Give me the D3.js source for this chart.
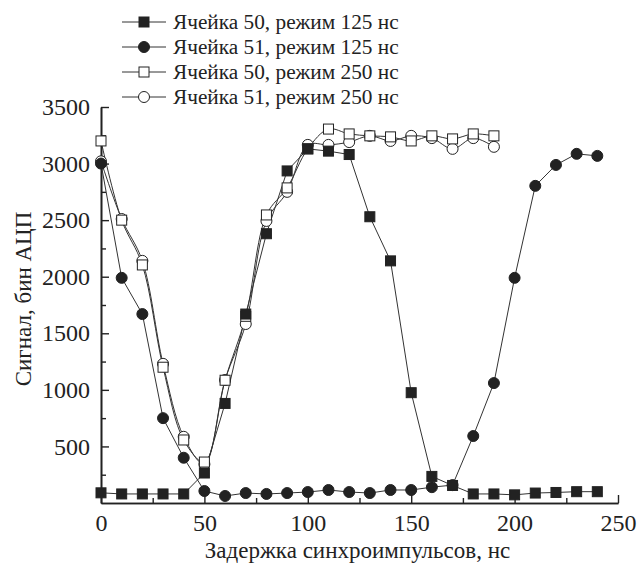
<!DOCTYPE html>
<html>
<head>
<meta charset="utf-8">
<script src="https://cdn.jsdelivr.net/npm/d3@7"></script>
<style>
  body { margin: 0; background: #fff; }
  text { font-family: "Liberation Serif", "DejaVu Serif", serif; fill: #222; }
</style>
</head>
<body>
<svg id="chart"></svg>
<script>
// delays (ns)
const delays125 = [0, 10, 20, 30, 40, 50, 60, 70, 80, 90, 100, 110, 120, 130, 140, 150, 160, 170, 180, 190, 200, 210, 220, 230, 240];
const delays250 = [0, 10, 20, 30, 40, 50, 60, 70, 80, 90, 100, 110, 120, 130, 140, 150, 160, 170, 180, 190];

// ADC signal values
const cell50mode125 = [90, 80, 80, 80, 80, 265, 880, 1670, 2380, 2935, 3130, 3110, 3080, 2530, 2140, 975, 235, 155, 80, 80, 72, 88, 93, 100, 100];
const cell51mode125 = [3000, 1990, 1670, 750, 400, 106, 62, 88, 80, 88, 97, 115, 97, 88, 115, 115, 140, 158, 592, 1060, 1990, 2803, 2988, 3086, 3068];
const cell50mode250 = [3200, 2500, 2104, 1200, 557, 362, 1085, 1650, 2546, 2785, 3130, 3305, 3262, 3245, 3236, 3200, 3245, 3218, 3262, 3245];
const cell51mode250 = [3020, 2510, 2140, 1230, 585, 343, 1087, 1582, 2493, 2750, 3165, 3165, 3190, 3245, 3200, 3245, 3225, 3130, 3225, 3148];

const seriesNames = [
    "Ячейка 50, режим 125 нс",
    "Ячейка 51, режим 125 нс",
    "Ячейка 50, режим 250 нс",
    "Ячейка 51, режим 250 нс"
];

const xTicks = [0, 50, 100, 150, 200, 250];
const yTicks = [500, 1000, 1500, 2000, 2500, 3000, 3500];

const width = 639, height = 563;
const margin = {top: 107, right: 21, bottom: 60, left: 101};

const svg = d3.select("#chart").attr("width", width).attr("height", height);

const x = d3.scaleLinear().domain([0, 250]).range([margin.left, width - margin.right]);
const y = d3.scaleLinear().domain([0, 3500]).range([height - margin.bottom, margin.top]);

const series = [
    {name: seriesNames[0], xs: delays125, ys: cell50mode125, shape: "square", filled: true, curve: d3.curveLinear},
    {name: seriesNames[1], xs: delays125, ys: cell51mode125, shape: "circle", filled: true, curve: d3.curveLinear},
    {name: seriesNames[2], xs: delays250, ys: cell50mode250, shape: "square", filled: false, curve: d3.curveCatmullRom},
    {name: seriesNames[3], xs: delays250, ys: cell51mode250, shape: "circle", filled: false, curve: d3.curveCatmullRom}
];

// axes: ticks pointing inward, minor ticks between majors
const xAxis = d3.axisBottom(x).tickValues(xTicks).tickFormat(d3.format("d")).tickSize(-8).tickPadding(11).tickSizeOuter(0);
const xMinor = d3.axisBottom(x).tickValues([25, 75, 125, 175, 225]).tickSize(-5).tickFormat("").tickSizeOuter(0);
const yAxis = d3.axisLeft(y).tickValues(yTicks).tickFormat(d3.format("d")).tickSize(-8).tickPadding(11).tickSizeOuter(0);
const yMinor = d3.axisLeft(y).tickValues([250, 750, 1250, 1750, 2250, 2750, 3250]).tickSize(-5).tickFormat("").tickSizeOuter(0);

const xAxisG = svg.append("g").attr("transform", `translate(0,${height - margin.bottom})`);
xAxisG.call(xAxis);
xAxisG.append("g").call(xMinor);
const yAxisG = svg.append("g").attr("transform", `translate(${margin.left},0)`);
yAxisG.call(yAxis);
yAxisG.append("g").call(yMinor);

svg.selectAll(".domain").attr("stroke", "#222").attr("stroke-width", 1.6);
svg.selectAll(".tick line").attr("stroke", "#222").attr("stroke-width", 1.4);
svg.selectAll(".tick text").style("font-size", "24px").attr("fill", "#222");

// axis titles
svg.append("text")
    .attr("x", x(125) - 2)
    .attr("y", 558)
    .attr("text-anchor", "middle")
    .style("font-size", "23px")
    .text("Задержка синхроимпульсов, нс");

svg.append("text")
    .attr("transform", `translate(31,299) rotate(-90)`)
    .attr("text-anchor", "middle")
    .style("font-size", "23px")
    .text("Сигнал, бин АЦП");

// draw lines then markers
function drawMarker(g, shape, filled, cx, cy) {
    if (shape === "square") {
        g.append("rect")
            .attr("x", cx - 5).attr("y", cy - 5)
            .attr("width", 10).attr("height", 10)
            .attr("fill", filled ? "#222" : "#fff")
            .attr("stroke", "#222").attr("stroke-width", 1);
    } else {
        g.append("circle")
            .attr("cx", cx).attr("cy", cy).attr("r", 5.5)
            .attr("fill", filled ? "#222" : "#fff")
            .attr("stroke", "#222").attr("stroke-width", 1);
    }
}

const plot = svg.append("g");
series.forEach(s => {
    const pts = s.xs.map((d, i) => [d, s.ys[i]]);
    const line = d3.line().x(d => x(d[0])).y(d => y(d[1])).curve(s.curve);
    plot.append("path")
        .attr("d", line(pts))
        .attr("fill", "none")
        .attr("stroke", "#333")
        .attr("stroke-width", 1);
});
// open series drawn first so filled markers sit on top where they overlap
[3, 2, 1, 0].forEach(k => {
    const s = series[k];
    const g = plot.append("g");
    s.xs.forEach((d, i) => drawMarker(g, s.shape, s.filled, x(d), y(s.ys[i])));
});

// legend
const legend = svg.append("g");
const legendY = [22, 47, 72, 97];
series.forEach((s, i) => {
    const row = legend.append("g").attr("transform", `translate(0,${legendY[i]})`);
    row.append("line").attr("x1", 122).attr("x2", 166).attr("y1", 0).attr("y2", 0)
        .attr("stroke", "#333").attr("stroke-width", 1);
    drawMarker(row, s.shape, s.filled, 144, 0);
    row.append("text")
        .attr("x", 173).attr("y", 7)
        .style("font-size", "21.3px")
        .text(s.name);
});
</script>
</body>
</html>
